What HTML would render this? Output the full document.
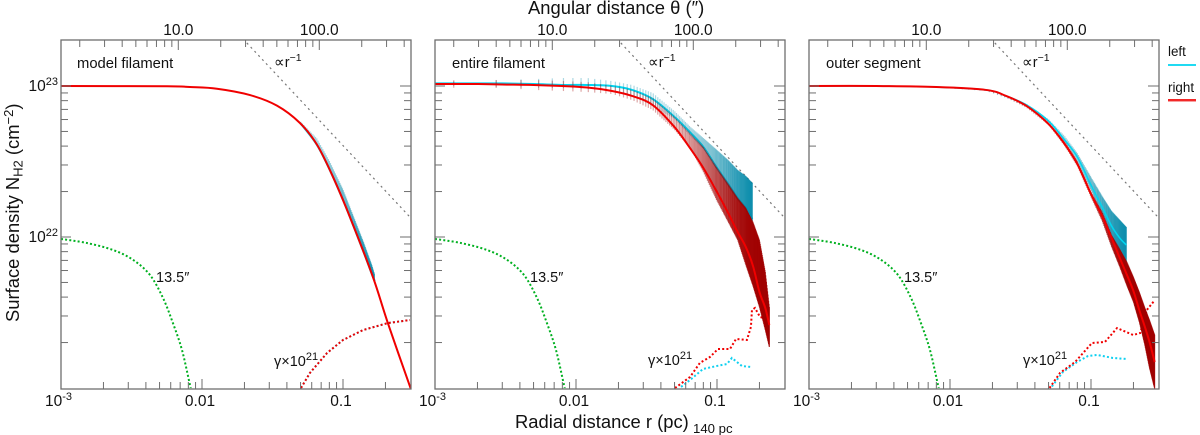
<!DOCTYPE html>
<html lang="en">
<head>
<meta charset="utf-8">
<title>Filament surface density profiles</title>
<style>
html,body{margin:0;padding:0;background:#fff;width:1200px;height:435px;overflow:hidden}
svg{display:block}
text{font-family:"Liberation Sans","DejaVu Sans",sans-serif;fill:#111}
</style>
</head>
<body>
<svg id="chart" xmlns="http://www.w3.org/2000/svg" width="1200" height="435" viewBox="0 0 1200 435">
  <defs>
    <clipPath id="plot-clip"><rect x="0" y="0" width="350" height="349"></rect></clipPath>
  </defs>
  <g id="panel-1" transform="translate(61,40)"></g>
  <g id="panel-2" transform="translate(435,40)"></g>
  <g id="panel-3" transform="translate(809,40)"></g>

  <text x="528" y="14" font-size="18.4">Angular distance θ (″)</text>
  <text x="515" y="428" font-size="18.4">Radial distance r (pc)</text>
  <text x="693" y="433" font-size="13.2">140 pc</text>
  <text transform="translate(19,322) rotate(-90)" font-size="18.4">Surface density N<tspan font-size="13" dy="3.5">H2</tspan><tspan dy="-3.5"> (cm</tspan><tspan font-size="13" dy="-6">−2</tspan><tspan dy="6">)</tspan></text>

  <text x="77" y="68" font-size="14.8">model filament</text>
  <text x="452" y="68" font-size="14.8">entire filament</text>
  <text x="826" y="68" font-size="14.8">outer segment</text>

  <text x="274" y="67" font-size="14.5"><tspan font-size="15">∝</tspan>r<tspan font-size="10.5" dy="-6">−1</tspan></text>
  <text x="648" y="67" font-size="14.5"><tspan font-size="15">∝</tspan>r<tspan font-size="10.5" dy="-6">−1</tspan></text>
  <text x="1022" y="67" font-size="14.5"><tspan font-size="15">∝</tspan>r<tspan font-size="10.5" dy="-6">−1</tspan></text>

  <text x="156" y="282" font-size="14.5">13.5″</text>
  <text x="530" y="282" font-size="14.5">13.5″</text>
  <text x="904" y="282" font-size="14.5">13.5″</text>

  <text x="274" y="366" font-size="14.5">γ×10<tspan font-size="11" dy="-6">21</tspan></text>
  <text x="648" y="365" font-size="14.5">γ×10<tspan font-size="11" dy="-6">21</tspan></text>
  <text x="1023" y="365" font-size="14.5">γ×10<tspan font-size="11" dy="-6">21</tspan></text>

  <g>
    <text x="1168" y="56" font-size="13.4">left</text>
    <line x1="1168" x2="1196" y1="65" y2="65" stroke="#00d5f0" stroke-width="1.8"></line>
    <text x="1168" y="92" font-size="13.4">right</text>
    <line x1="1168" x2="1196" y1="100.5" y2="100.5" stroke="#f7a0a0" stroke-width="3"></line>
    <line x1="1168" x2="1196" y1="100" y2="100" stroke="#f00000" stroke-width="1.6"></line>
  </g>
</svg>

<script>
// ---- axis tick values and labels ----
var radialMinorTicks = [0.002,0.003,0.004,0.005,0.006,0.007,0.008,0.009,0.02,0.03,0.04,0.05,0.06,0.07,0.08,0.09,0.2];
var radialMajorTicks = [0.01,0.1];
var radialTickLabels = ["0.01","0.1"];
var angularMinorTicks = [2,3,4,5,6,7,8,9,20,30,40,50,60,70,80,90,200,300,400];
var angularMajorTicks = [10,100];
var angularTickLabels = ["10.0","100.0"];
var densityMinorTicks = [21.301,21.477,21.602,21.699,21.778,21.845,21.903,21.954,22.301,22.477,22.602,22.699,22.778,22.845,22.903,22.954];
var densityMajorTicks = [22,23];
var densityTickLabels = ["22","23"];
var barStepArcsec = 2;

// ---- all surface densities are log10(N / cm^-2); radii in pc ----
var powerLawR = [0.0208,0.2985];
var powerLawN = [23.285,22.132];

var beamR = [0.001,0.00153,0.00234,0.00325,0.00428,0.00529,0.00622,0.00721,0.00822,0.00836];
var beamN = [21.987,21.96,21.914,21.848,21.748,21.596,21.43,21.252,21.02,21.0];

// model filament
var modelR = [0.001,0.00565,0.0082,0.01276,0.0219,0.034,0.0495,0.0655,0.085,0.112,0.163,0.208,0.303];
var modelN = [23,22.998,22.993,22.982,22.94,22.87,22.755,22.61,22.397,22.132,21.735,21.43,20.993];
var modelBandR = [0.05,0.065,0.08,0.1,0.12,0.14,0.16,0.168];
var modelBandHi = [22.765,22.655,22.505,22.315,22.125,21.965,21.815,21.75];
var modelBandLo = [22.752,22.613,22.45,22.245,22.06,21.9,21.755,21.709];
var gammaModelR = [0.0504,0.0583,0.0771,0.1,0.139,0.208,0.2985];
var gammaModelN = [21.0,21.1,21.232,21.318,21.384,21.43,21.45];

// entire filament
var entireLeftR = [0.001,0.0014,0.002,0.003,0.005,0.008,0.012,0.018,0.025,0.035,0.05,0.065,0.08,0.1,0.12,0.14,0.16,0.178];
var entireLeftN = [23.017,23.017,23.017,23.017,23.013,23.007,23.007,23,22.974,22.914,22.795,22.689,22.596,22.457,22.351,22.258,22.192,22.119];
var entireLeftHi = [23.02,23.033,23.033,23.04,23.046,23.053,23.053,23.033,23.007,22.954,22.834,22.728,22.656,22.576,22.51,22.444,22.404,22.358];
var entireLeftLo = [23.013,23,22.993,22.993,22.987,22.987,22.98,22.967,22.934,22.868,22.781,22.669,22.583,22.444,22.338,22.245,22.179,22.106];
var entireRightR = [0.001,0.0014,0.002,0.003,0.005,0.008,0.012,0.018,0.025,0.035,0.05,0.065,0.08,0.1,0.12,0.14,0.16,0.18,0.2,0.22,0.235];
var entireRightN = [23.013,23.013,23.013,23.01,23.007,23,22.99,22.967,22.934,22.874,22.728,22.583,22.457,22.298,22.159,22.033,21.934,21.808,21.636,21.53,21.417];
var entireRightHi = [23.02,23.04,23.04,23.04,23.04,23.033,23.026,23,22.974,22.921,22.795,22.683,22.597,22.458,22.352,22.259,22.193,22.099,21.98,21.768,21.536];
var entireRightLo = [23.007,22.987,22.987,22.987,22.974,22.967,22.96,22.947,22.907,22.841,22.709,22.583,22.43,22.238,22.099,21.98,21.815,21.675,21.536,21.384,21.271];
var gammaEntireRightR = [0.0504,0.0644,0.0756,0.0891,0.1016,0.1236,0.1365,0.163,0.174,0.177,0.186,0.202,0.23];
var gammaEntireRightN = [21.0,21.073,21.166,21.205,21.258,21.258,21.325,21.318,21.404,21.517,21.53,21.47,21.457];
var gammaEntireLeftR = [0.0556,0.0644,0.0796,0.1,0.1178,0.1276,0.15,0.174];
var gammaEntireLeftN = [21.007,21.053,21.126,21.146,21.159,21.199,21.146,21.139];

// outer segment
var outerLeftR = [0.001,0.003,0.008,0.018,0.025,0.035,0.05,0.065,0.08,0.1,0.12,0.14,0.16,0.178];
var outerLeftN = [23,23,22.993,22.974,22.934,22.874,22.768,22.642,22.53,22.344,22.199,22.073,21.993,21.947];
var outerLeftHi = [23,23,22.995,22.977,22.94,22.881,22.781,22.669,22.556,22.397,22.271,22.172,22.113,22.066];
var outerLeftLo = [23,23,22.99,22.967,22.92,22.861,22.748,22.616,22.49,22.311,22.132,22,21.914,21.834];
var outerRightR = [0.001,0.003,0.008,0.018,0.025,0.035,0.05,0.065,0.08,0.1,0.12,0.14,0.16,0.18,0.2,0.22,0.24,0.26,0.283];
var outerRightN = [23,23,22.993,22.974,22.934,22.867,22.748,22.616,22.483,22.285,22.139,21.993,21.861,21.748,21.642,21.516,21.41,21.305,21.172];
var outerRightHi = [23,23,22.995,22.977,22.94,22.874,22.762,22.636,22.503,22.298,22.166,22.013,21.92,21.834,21.735,21.636,21.536,21.45,21.351];
var outerRightLo = [23,23,22.99,22.97,22.925,22.854,22.742,22.603,22.47,22.265,22.106,21.934,21.801,21.675,21.569,21.437,21.291,21.132,20.993];
var gammaOuterRightR = [0.0508,0.0603,0.0771,0.1016,0.1256,0.153,0.199,0.223,0.249,0.28];
var gammaOuterRightN = [21.0,21.1,21.172,21.298,21.305,21.397,21.351,21.364,21.517,21.576];
var gammaOuterLeftR = [0.0528,0.0632,0.0796,0.0953,0.1104,0.143,0.18];
var gammaOuterLeftN = [21.01,21.106,21.172,21.212,21.219,21.199,21.192];

var panels = [
  {id:'panel-1', isFirst:true, cyanOnTop:false,
   leftR:modelBandR, leftN:modelBandLo, leftHi:modelBandHi, leftLo:modelBandLo,
   rightR:modelR, rightN:modelN, rightHi:null, rightLo:null,
   gammaRightR:gammaModelR, gammaRightN:gammaModelN, gammaLeftR:gammaModelR, gammaLeftN:gammaModelN},
  {id:'panel-2', isFirst:false, cyanOnTop:false,
   leftR:entireLeftR, leftN:entireLeftN, leftHi:entireLeftHi, leftLo:entireLeftLo,
   rightR:entireRightR, rightN:entireRightN, rightHi:entireRightHi, rightLo:entireRightLo,
   gammaRightR:gammaEntireRightR, gammaRightN:gammaEntireRightN, gammaLeftR:gammaEntireLeftR, gammaLeftN:gammaEntireLeftN},
  {id:'panel-3', isFirst:false, cyanOnTop:true,
   leftR:outerLeftR, leftN:outerLeftN, leftHi:outerLeftHi, leftLo:outerLeftLo,
   rightR:outerRightR, rightN:outerRightN, rightHi:outerRightHi, rightLo:outerRightLo,
   gammaRightR:gammaOuterRightR, gammaRightN:gammaOuterRightN, gammaLeftR:gammaOuterLeftR, gammaLeftN:gammaOuterLeftN}
];

// ---- axis functions (panel-local pixels) ----
var PC_PER_ARCSEC = 0.000679;
function X(r){ return 141*(Math.log10(r)+3); }
function Y(logN){ return 46+(23-logN)*151; }

var NS = 'http://www.w3.org/2000/svg';
function make(parent, tag, attrs, txt){
  var e = document.createElementNS(NS, tag);
  for (var k in attrs) e.setAttribute(k, attrs[k]);
  if (txt !== undefined) e.textContent = txt;
  parent.appendChild(e);
  return e;
}
function interp(rs, vs, r){
  var lr = Math.log10(r);
  for (var i=0;i<rs.length-1;i++){
    var a=Math.log10(rs[i]), b=Math.log10(rs[i+1]);
    if (lr>=a && lr<=b) return vs[i]+(vs[i+1]-vs[i])*(lr-a)/(b-a);
  }
  return null;
}
function smoothPath(rs, ns){
  var p = rs.map(function(r,i){ return [X(r),Y(ns[i])]; });
  var d = 'M'+p[0][0].toFixed(2)+' '+p[0][1].toFixed(2);
  for (var i=0;i<p.length-1;i++){
    var p0=p[Math.max(i-1,0)], p1=p[i], p2=p[i+1], p3=p[Math.min(i+2,p.length-1)];
    var c1x=p1[0]+(p2[0]-p0[0])/6, c1y=p1[1]+(p2[1]-p0[1])/6;
    var c2x=p2[0]-(p3[0]-p1[0])/6, c2y=p2[1]-(p3[1]-p1[1])/6;
    d+=' C'+c1x.toFixed(2)+' '+c1y.toFixed(2)+' '+c2x.toFixed(2)+' '+c2y.toFixed(2)+' '+p2[0].toFixed(2)+' '+p2[1].toFixed(2);
  }
  return d;
}
function linePath(rs, ns){
  return rs.map(function(r,i){ return (i?'L':'M')+X(r).toFixed(2)+' '+Y(ns[i]).toFixed(2); }).join(' ');
}
function leftBarOpacity(x){
  var t = Math.max(0, Math.min(1, (x-200)/117));
  return 0.32+0.4*t*t*t;
}
function rightBarOpacity(x){
  var t = Math.max(0, Math.min(1, (x-200)/117));
  return 0.35+0.5*t*t;
}

function drawBand(g, rs, hi, lo, color, opacityAt, name){
  var rMin = rs[0], rMax = rs[rs.length-1];
  for (var n=1; n*barStepArcsec*PC_PER_ARCSEC<=rMax*1.001; n++){
    var r = Math.min(n*barStepArcsec*PC_PER_ARCSEC, rMax);
    if (r<rMin) continue;
    var h = interp(rs,hi,r), l = interp(rs,lo,r);
    if (h===null||l===null) continue;
    var bar = make(g,'line',{x1:X(r),x2:X(r),y1:Y(h),y2:Y(l),stroke:color,'stroke-width':1.2,'stroke-opacity':opacityAt(X(r))});
    
    
  }
}

function drawAxes(g, cfg){
  var c='#6e6e6e';
  var frame = make(g,'rect',{x:0,y:0,width:350,height:349,fill:'none',stroke:c,'stroke-width':1.3});
  
  

  radialMinorTicks.forEach(function(v){
    var t = make(g,'line',{x1:X(v),x2:X(v),y1:349,y2:342,stroke:c,'stroke-width':1});
    
    
  });
  radialMajorTicks.forEach(function(v,i){
    var t = make(g,'line',{x1:X(v),x2:X(v),y1:349,y2:339,stroke:c,'stroke-width':1});
    
    
    var lab = make(g,'text',{x:X(v)-2,y:366,'text-anchor':'middle','font-size':15.5},radialTickLabels[i]);
    
    
  });
  var origin = make(g,'text',{x:-16,y:366,'font-size':15.5},'10');
  
  
  var originExp = make(origin,'tspan',{'font-size':11,dy:-6},'-3');
  
  

  angularMinorTicks.forEach(function(v){
    var x = X(v*PC_PER_ARCSEC);
    var t = make(g,'line',{x1:x,x2:x,y1:0,y2:7,stroke:c,'stroke-width':1});
    
    
  });
  angularMajorTicks.forEach(function(v,i){
    var x = X(v*PC_PER_ARCSEC);
    var t = make(g,'line',{x1:x,x2:x,y1:0,y2:10,stroke:c,'stroke-width':1});
    
    
    var lab = make(g,'text',{x:x,y:-5,'text-anchor':'middle','font-size':15.5},angularTickLabels[i]);
    
    
  });

  densityMinorTicks.forEach(function(v){
    var y = Y(v);
    var a = make(g,'line',{x1:0,x2:7,y1:y,y2:y,stroke:c,'stroke-width':1});
    
    
    var b = make(g,'line',{x1:350,x2:343,y1:y,y2:y,stroke:c,'stroke-width':1});
    
    
  });
  densityMajorTicks.forEach(function(v,i){
    var y = Y(v);
    var a = make(g,'line',{x1:0,x2:10,y1:y,y2:y,stroke:c,'stroke-width':1});
    
    
    var b = make(g,'line',{x1:350,x2:339,y1:y,y2:y,stroke:c,'stroke-width':1});
    
    
    if (cfg.isFirst){
      var lab = make(g,'text',{x:-3,y:y+5,'text-anchor':'end','font-size':15.5},'10');
      
      
      var ex = make(lab,'tspan',{'font-size':11,dy:-6},densityTickLabels[i]);
      
      
    }
  });
}

function strokeSeries(g, d, color, width, dash, name){
  var attrs = {d:d,fill:'none',stroke:color,'stroke-width':width};
  if (dash) attrs['stroke-dasharray']=dash;
  var p = make(g,'path',attrs);
  
  
  return p;
}

panels.forEach(function(cfg){
  var root = document.getElementById(cfg.id);
  var clip = make(root,'g',{'clip-path':'url(#plot-clip)'});
  
  

  strokeSeries(clip, linePath(powerLawR,powerLawN), '#777', 1.2, '2 3.6', 'power-law-guide');
  strokeSeries(clip, smoothPath(beamR,beamN), '#00b020', 2, '2 2.2', 'beam-profile');
  strokeSeries(clip, linePath(cfg.gammaLeftR,cfg.gammaLeftN), '#10d0f0', 2, '2 2.2', 'gamma-left');
  strokeSeries(clip, linePath(cfg.gammaRightR,cfg.gammaRightN), '#f00000', 2, '2 2.2', 'gamma-right');

  var cyanLine = smoothPath(cfg.leftR,cfg.leftN);
  if (!cfg.cyanOnTop) strokeSeries(clip, cyanLine, '#00d5f0', 2, null, 'profile-left');
  drawBand(clip, cfg.leftR, cfg.leftHi, cfg.leftLo, '#0088a8', leftBarOpacity, 'error-bar-left');
  if (cfg.rightHi) drawBand(clip, cfg.rightR, cfg.rightHi, cfg.rightLo, '#a00000', rightBarOpacity, 'error-bar-right');
  if (cfg.cyanOnTop) strokeSeries(clip, cyanLine, '#00d5f0', 1.6, null, 'profile-left');
  strokeSeries(clip, smoothPath(cfg.rightR,cfg.rightN), '#f00000', 2, null, 'profile-right');

  drawAxes(root, cfg);
});
</script>
</body>
</html>
